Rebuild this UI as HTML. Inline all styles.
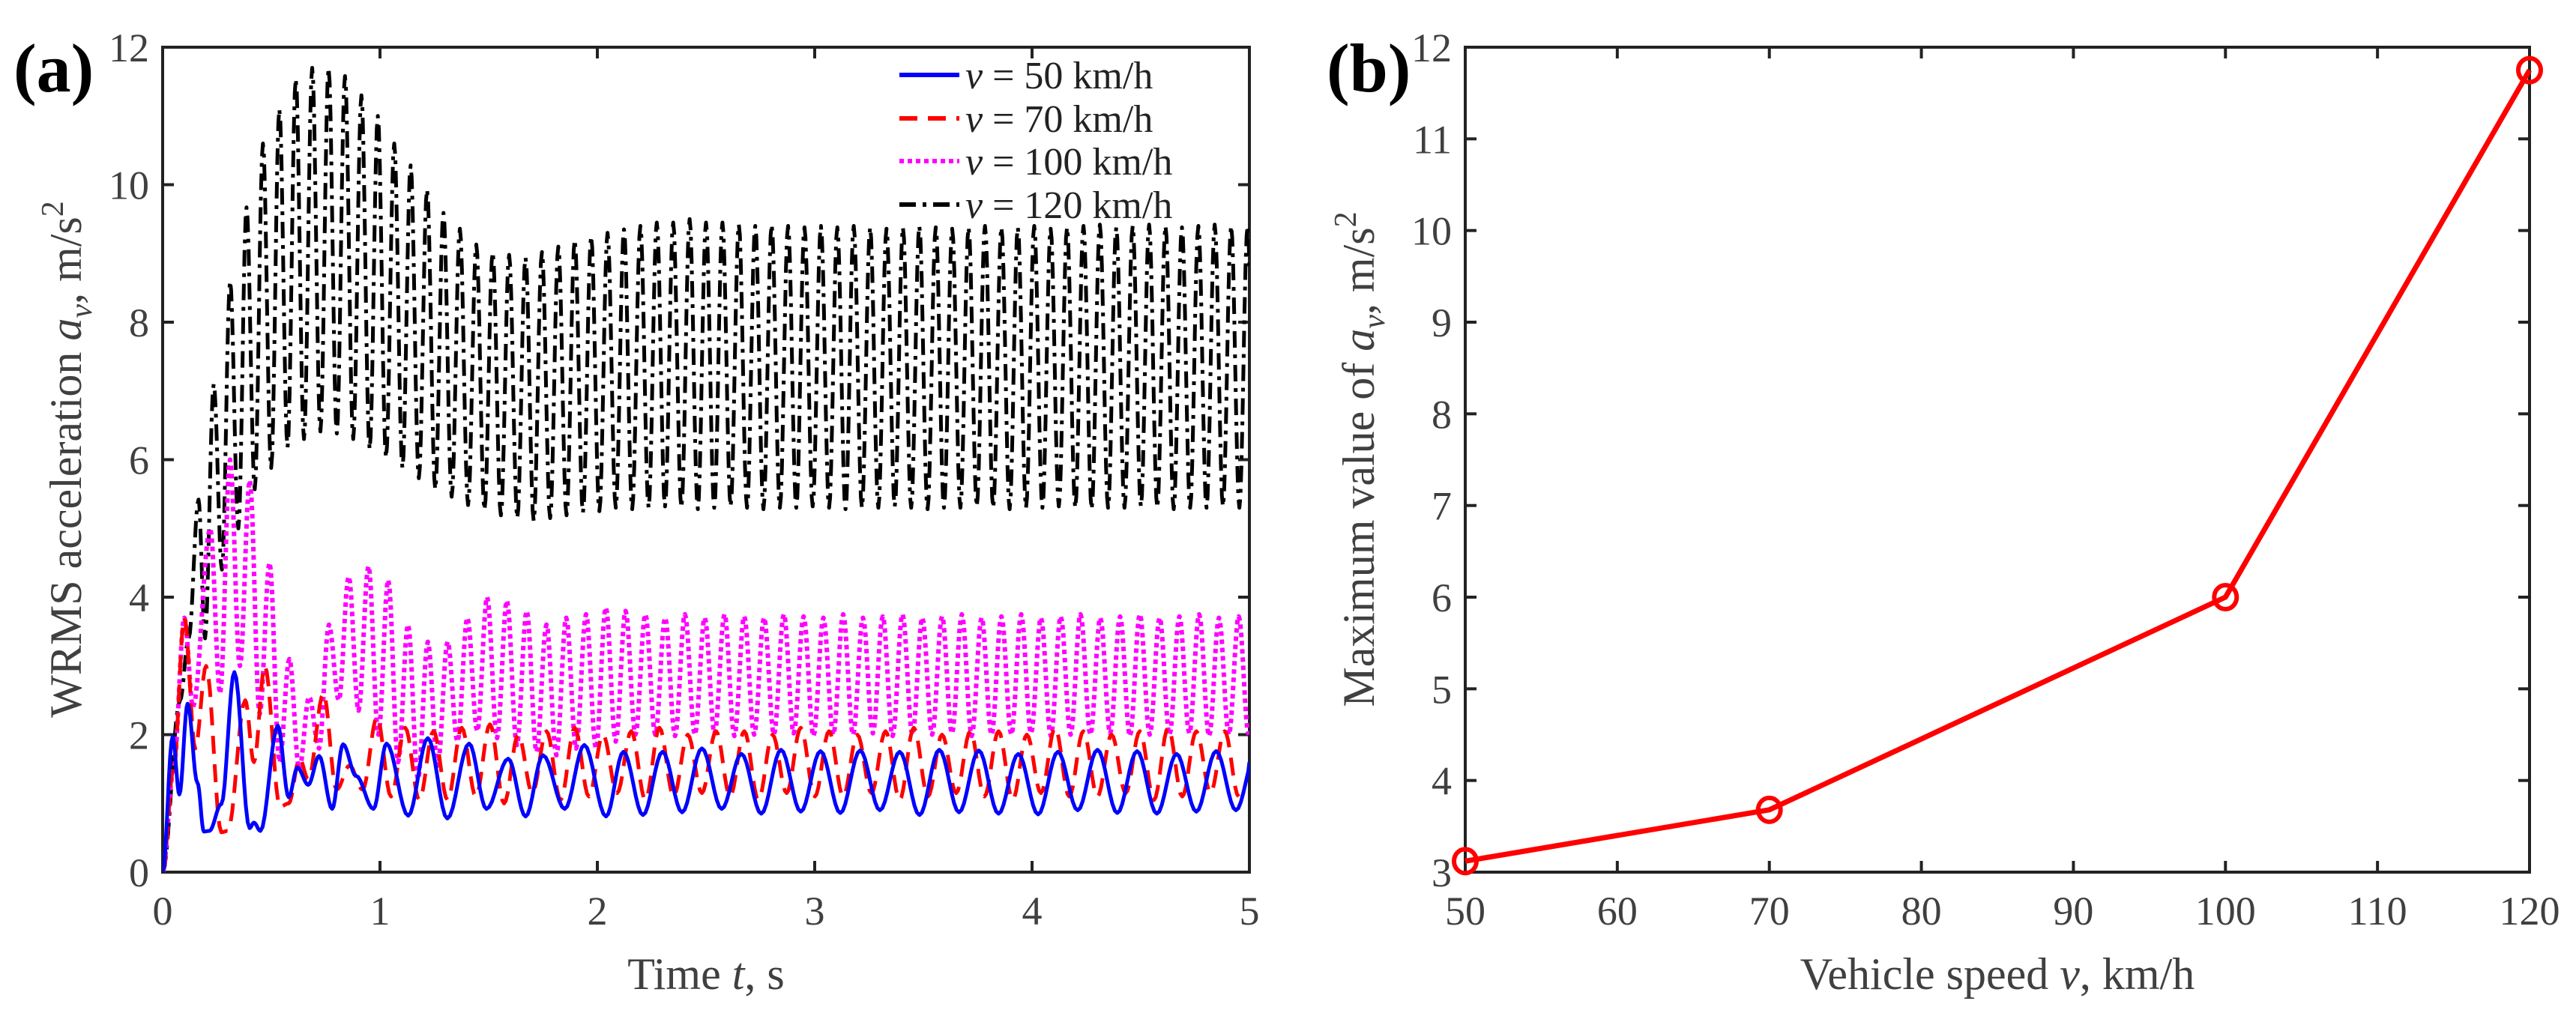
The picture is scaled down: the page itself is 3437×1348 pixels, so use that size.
<!DOCTYPE html>
<html><head><meta charset="utf-8">
<style>
html,body{margin:0;padding:0;background:#fff;}
svg{display:block;font-family:"Liberation Serif","Times New Roman",serif;}
</style></head>
<body>
<svg id="fig" width="3437" height="1348" viewBox="0 0 3437 1348" xmlns="http://www.w3.org/2000/svg">
<rect x="0" y="0" width="3437" height="1348" fill="#fff"/>
<g id="pa"></g>
<g id="pb"></g>
</svg>
<script>
// ---------- Panel (a) data ----------
const aXTicks = [0,1,2,3,4,5];
const aYTicks = [0,2,4,6,8,10,12];
const legendLabels = ["50 km/h","70 km/h","100 km/h","120 km/h"];
// explicit transient extrema [t, value]
const blueEarly = [[0,0],[0.046,1.97],[0.077,1.13],[0.115,2.45],[0.16,1.3],[0.19,0.59],[0.215,0.6],[0.27,0.99],[0.33,2.91],[0.40,0.64],[0.42,0.72],[0.45,0.6],[0.53,2.13],[0.58,1.09],[0.62,1.52],[0.67,1.27],[0.72,1.69],[0.78,0.92],[0.83,1.86],[0.89,1.4],[0.97,0.92],[1.03,1.87],[1.13,0.82],[1.22,1.95],[1.31,0.78],[1.41,1.87],[1.49,0.92],[1.59,1.65],[1.67,0.81],[1.75,1.70],[1.85,0.92],[1.94,1.85],[2.04,0.81],[2.12,1.75],[2.21,0.83],[2.30,1.75]];
const blueT0 = 2.39, bluePeriod = 0.182;
const blueTroughs = [0.87,0.92,0.85,0.88,0.86,0.9,0.83,0.87,0.85,0.84,0.9,0.86,0.85,0.88,0.9];
const bluePeaks   = [1.8,1.72,1.78,1.76,1.77,1.75,1.78,1.77,1.72,1.75,1.78,1.76,1.72,1.76,1.72];

const redEarly = [[0,0],[0.05,1.5],[0.1,3.7],[0.15,1.8],[0.2,3.0],[0.27,0.58],[0.3,0.6],[0.38,2.5],[0.42,1.6],[0.47,3.0],[0.54,0.95],[0.58,1.0],[0.63,1.65],[0.67,1.35],[0.74,2.6],[0.8,1.2],[0.86,1.55],[0.92,1.2]];
const redT0 = 0.986, redPeriod = 0.13;
const redPeaks = [2.25,2.1,2.05,2.1,2.15,2.0,2.05,2.1,2.0,2.05,2.1,2.0,2.05,2.05,2.0,2.1,2.05,2.0,2.05,2.1,2.0,2.05,2.05,2.0,2.1,2.05,2.0,2.05,2.1,2.05,2.05];
const redTroughs = [1.1,1.05,1.05,1.1,1.0,1.15,1.05,1.1,1.15,1.05,1.1,1.15,1.1,1.05,1.15,1.1,1.1,1.15,1.05,1.1,1.15,1.1,1.05,1.15,1.1,1.1,1.15,1.05,1.1,1.15,1.1];

const magEarly = [[0,0],[0.05,1.5],[0.1,3.7],[0.14,2.4]];
const magT0 = 0.219, magPeriod = 0.091;
const magPeaks = [5.0,6.0,5.7,4.5,3.1,2.55,3.6,4.3,4.45,4.25,3.6,3.35,3.35,3.7,4.0,3.95,3.8,3.6,3.7,3.75,3.85,3.8,3.75,3.7,3.75,3.7,3.75,3.72,3.7,3.75,3.72,3.7,3.75,3.7,3.72,3.75,3.7,3.72,3.75,3.7,3.72,3.75,3.7,3.72,3.75,3.7,3.72,3.75,3.7,3.72,3.75,3.7,3.72];
const magTroughs = [2.6,3.0,2.3,1.6,1.5,1.8,2.5,2.35,2.0,1.6,1.35,1.55,1.9,2.05,1.95,1.85,1.75,1.7,1.8,1.8,1.9,2.0,2.0,1.98,2.0,2.02,1.98,2.0,2.0,2.02,1.98,2.0,2.0,2.02,1.98,2.0,2.0,2.02,1.98,2.0,2.0,2.02,1.98,2.0,2.0,2.02,1.98,2.0,2.0,2.02,1.98,2.0,2.0];

const blackEarly = [[0,0],[0.08,2.5],[0.12,3.4],[0.165,5.42],[0.195,3.4]];
const blackT0 = 0.235, blackPeriod = 0.0755;
const blackPeaks = [7.1,8.6,9.67,10.6,11.1,11.54,11.7,11.7,11.58,11.3,11.0,10.6,10.28,9.93,9.59,9.36,9.13,9.02,8.98,8.94,9.02,9.1,9.2,9.25,9.3,9.35,9.4,9.45,9.45,9.5,9.45,9.45,9.42,9.4,9.42,9.4,9.38,9.4,9.38,9.4,9.38,9.36,9.38,9.4,9.38,9.36,9.38,9.4,9.38,9.38,9.4,9.36,9.38,9.4,9.42,9.38,9.4,9.42,9.4,9.38,9.4,9.42,9.4,9.4];
const blackTroughs = [4.4,5.0,5.57,5.88,6.18,6.3,6.41,6.38,6.3,6.15,6.03,5.88,5.73,5.57,5.46,5.34,5.27,5.19,5.15,5.11,5.15,5.19,5.23,5.25,5.3,5.28,5.3,5.32,5.3,5.28,5.3,5.32,5.3,5.28,5.3,5.3,5.32,5.3,5.28,5.3,5.3,5.32,5.3,5.28,5.3,5.3,5.32,5.3,5.28,5.3,5.3,5.32,5.3,5.28,5.3,5.3,5.32,5.3,5.28,5.3,5.3,5.32,5.3,5.3];

// ---------- Panel (b) data ----------
const speeds = [50,70,100,120];
const maxAcc = [3.12,3.68,6.0,11.75];
const bXTicks = [50,60,70,80,90,100,110,120];
const bYTicks = [3,4,5,6,7,8,9,10,11,12];

const NS = "http://www.w3.org/2000/svg";
function mk(parent, tag, attrs){
  const e = document.createElementNS(NS, tag);
  for (const k in attrs) e.setAttribute(k, attrs[k]);
  parent.appendChild(e);
  return e;
}
const TXT = "#404040";

// axes geometry
const A = {x0:217, x1:1667, y0:63, y1:1164, xmin:0, xmax:5, ymin:0, ymax:12};
const B = {x0:1955, x1:3375, y0:63, y1:1164, xmin:50, xmax:120, ymin:3, ymax:12};
function sx(ax, v){ return ax.x0 + (v-ax.xmin)/(ax.xmax-ax.xmin)*(ax.x1-ax.x0); }
function sy(ax, v){ return ax.y1 - (v-ax.ymin)/(ax.ymax-ax.ymin)*(ax.y1-ax.y0); }

function drawAxes(g, ax, xt, yt, xlabelParts, ylabelParts, name){
  const box = mk(g,'rect',{x:ax.x0,y:ax.y0,width:ax.x1-ax.x0,height:ax.y1-ax.y0,fill:'none',stroke:'#222','stroke-width':4});
  
  
  xt.forEach(v=>{
    const x = sx(ax,v);
    const t1 = mk(g,'line',{x1:x,y1:ax.y1,x2:x,y2:ax.y1-15,stroke:'#222','stroke-width':4});
    
    
    mk(g,'line',{x1:x,y1:ax.y0,x2:x,y2:ax.y0+15,stroke:'#222','stroke-width':4});
    const lb = mk(g,'text',{x:x,y:ax.y1+70,'text-anchor':'middle','font-size':54,fill:TXT});
    lb.textContent = v;
    
    
  });
  yt.forEach(v=>{
    const y = sy(ax,v);
    const t1 = mk(g,'line',{x1:ax.x0,y1:y,x2:ax.x0+15,y2:y,stroke:'#222','stroke-width':4});
    
    
    mk(g,'line',{x1:ax.x1,y1:y,x2:ax.x1-15,y2:y,stroke:'#222','stroke-width':4});
    const lb = mk(g,'text',{x:ax.x0-18,y:y+19,'text-anchor':'end','font-size':54,fill:TXT});
    lb.textContent = v;
    
    
  });
  const xl = mk(g,'text',{x:(ax.x0+ax.x1)/2,y:1320,'text-anchor':'middle','font-size':60,fill:TXT});
  xl.innerHTML = xlabelParts;
  
  
  return xl;
}

// ---- Panel a ----
const ga = document.getElementById('pa');
drawAxes(ga, A, aXTicks, aYTicks, 'Time <tspan font-style="italic">t</tspan>, s', '', 'a');
const yla = mk(ga,'text',{x:0,y:0,'text-anchor':'middle','font-size':60,fill:TXT,transform:'translate(108,613) rotate(-90)'});
yla.innerHTML = 'WRMS acceleration <tspan font-style="italic">a</tspan><tspan font-style="italic" font-size="42" dy="14">v</tspan><tspan dy="-14">, m/s</tspan><tspan font-size="42" dy="-24">2</tspan>';


const la = mk(ga,'text',{x:18,y:122,'font-size':92,'font-weight':'bold',fill:'#000'});
la.textContent = '(a)';



function buildExtrema(early, t0, period, peaks, troughs){
  const pts = early.slice();
  const n = peaks.length;
  for (let i=0;i<n;i++){
    const tp = t0 + i*period;
    pts.push([tp, peaks[i]]);
    if (i < troughs.length) pts.push([tp + period/2, troughs[i]]);
  }
  return pts;
}
function buildExtremaTroughFirst(early, t0, period, troughs, peaks){
  const pts = early.slice();
  for (let i=0;i<troughs.length;i++){
    const tt = t0 + i*period;
    pts.push([tt, troughs[i]]);
    if (i < peaks.length) pts.push([tt + period/2, peaks[i]]);
  }
  return pts;
}
function pathFrom(pts){
  let d = '';
  for (let i=0;i<pts.length;i++){
    const [t,v] = pts[i];
    if (i===0){ d += 'M'+sx(A,t).toFixed(1)+','+sy(A,v).toFixed(1); continue; }
    const [tp,vp] = pts[i-1];
    const steps = 8;
    for (let s=1;s<=steps;s++){
      const f = s/steps;
      let tt = tp + (t-tp)*f;
      const w = (1-Math.cos(Math.PI*f))/2;
      let vv = vp + (v-vp)*w;
      if (tt > A.xmax) { tt = A.xmax; }
      d += 'L'+sx(A,tt).toFixed(1)+','+sy(A,vv).toFixed(1);
      if (tt >= A.xmax) return d;
    }
  }
  return d;
}
const clip = mk(ga,'clipPath',{id:'clipA'});
mk(clip,'rect',{x:A.x0,y:A.y0-20,width:A.x1-A.x0,height:A.y1-A.y0+20});

const series = [
  {pts: buildExtrema(blackEarly, blackT0, blackPeriod, blackPeaks, blackTroughs), color:'#000', dash:'22,9,5,9', w:5, name:'series-120kmh'},
  {pts: buildExtrema(magEarly, magT0, magPeriod, magPeaks, magTroughs), color:'#ff00ff', dash:'6,5', w:6, name:'series-100kmh'},
  {pts: buildExtrema(redEarly, redT0, redPeriod, redPeaks, redTroughs), color:'#ff0000', dash:'24,14', w:5, name:'series-70kmh'},
  {pts: buildExtremaTroughFirst(blueEarly, blueT0, bluePeriod, blueTroughs, bluePeaks), color:'#0000ff', dash:'none', w:5, name:'series-50kmh'}
];
series.forEach(s=>{
  const p = mk(ga,'path',{d:pathFrom(s.pts),fill:'none',stroke:s.color,'stroke-width':s.w,'stroke-dasharray':s.dash,'stroke-linejoin':'round','clip-path':'url(#clipA)'});
  
  
});

// legend
const legColors = ['#0000ff','#ff0000','#ff00ff','#000'];
const legDash = ['none','24,14','6,5','22,9,5,9'];
const legY = [100,158,215,273];
legendLabels.forEach((lab,i)=>{
  const g = mk(ga,'g',{});
  
  
  mk(g,'line',{x1:1200,y1:legY[i],x2:1280,y2:legY[i],stroke:legColors[i],'stroke-width':6,'stroke-dasharray':legDash[i]});
  const t = mk(g,'text',{x:1288,y:legY[i]+18,'font-size':52,fill:'#222'});
  t.innerHTML = '<tspan font-style="italic">v</tspan> = ' + lab;
});

// ---- Panel b ----
const gb = document.getElementById('pb');
drawAxes(gb, B, bXTicks, bYTicks, 'Vehicle speed <tspan font-style="italic">v</tspan>, km/h', '', 'b');
const ylb = mk(gb,'text',{x:0,y:0,'text-anchor':'middle','font-size':60,fill:TXT,transform:'translate(1833,613) rotate(-90)'});
ylb.innerHTML = 'Maximum value of <tspan font-style="italic">a</tspan><tspan font-style="italic" font-size="42" dy="14">v</tspan><tspan dy="-14">, m/s</tspan><tspan font-size="42" dy="-24">2</tspan>';


const lb2 = mk(gb,'text',{x:1770,y:122,'font-size':92,'font-weight':'bold',fill:'#000'});
lb2.textContent = '(b)';



let dB = '';
speeds.forEach((s,i)=>{ dB += (i?'L':'M') + sx(B,s) + ',' + sy(B,maxAcc[i]); });
const lineB = mk(gb,'path',{d:dB,fill:'none',stroke:'#ff0000','stroke-width':7,'stroke-linejoin':'round'});


speeds.forEach((s,i)=>{
  const c = mk(gb,'ellipse',{cx:sx(B,s),cy:sy(B,maxAcc[i]),rx:15,ry:16,fill:'none',stroke:'#ff0000','stroke-width':6});
  
  
});
</script>
</body></html>
